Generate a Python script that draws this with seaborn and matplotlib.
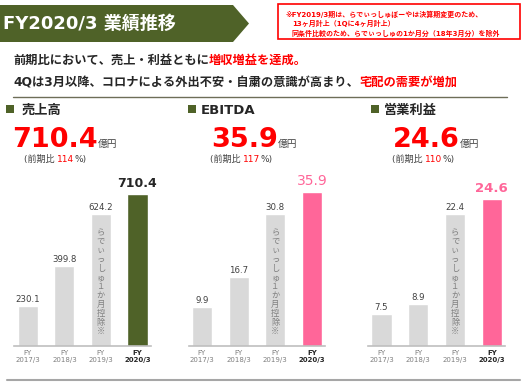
import matplotlib as mpl
import matplotlib.pyplot as plt
import matplotlib.patches as patches
import matplotlib.transforms as transforms
import pandas as pd
import seaborn as sns

# data
years = ['FY\n2017/3', 'FY\n2018/3', 'FY\n2019/3', 'FY\n2020/3']
sales = [230.1, 399.8, 624.2, 710.4]
ebitda = [9.9, 16.7, 30.8, 35.9]
opProfit = [7.5, 8.9, 22.4, 24.6]
yoy = [114, 117, 110]
titles = ['売上高', 'EBITDA', '営業利益']
headline = 'FY2020/3 業績推移'
noteLines = ['※FY2019/3期は、らでぃっしゅぼーやは決算期変更のため、',
             '13ヶ月計上（1Qに4ヶ月計上）',
             '同条件比較のため、らでぃっしゅの1か月分（18年3月分）を除外']
bodyLine1 = [('前期比において、売上・利益ともに', '#262626'), ('増収増益を達成。', '#ff0000')]
bodyLine2 = [('4Qは3月以降、コロナによる外出不安・自粛の意識が高まり、', '#262626'), ('宅配の需要が増加', '#ff0000')]
barNote = 'らでぃっしゅ１か月控除※'

W, H = 529, 383
olive = '#4f6228'
pink = '#ff6699'
grey = '#d9d9d9'
dark = '#262626'
fam = ['DejaVu Sans', 'Noto Sans CJK JP']

sns.set_style('white')
plt.rcParams['font.family'] = fam

fig = plt.figure(figsize=(W / 100, H / 100), dpi=100)
renderer = fig.canvas.get_renderer()


def fx(x):
    return x / W


def fy(y):
    return 1 - y / H


def putRow(parts, x, y, **kw):
    # draw text pieces one after another on a baseline (pixel coords)
    for s, c, size, weight in parts:
        t = fig.text(fx(x), fy(y), s, color=c, fontsize=size, fontweight=weight,
                     va='baseline', ha='left', family=fam, **kw)
        x = t.get_window_extent(renderer).x1
    return x


# header banner
banner = patches.Polygon([(fx(0), fy(5)), (fx(233), fy(5)), (fx(249), fy(23.5)),
                          (fx(233), fy(42)), (fx(0), fy(42))],
                         closed=True, transform=fig.transFigure, facecolor=olive, edgecolor='none')
fig.patches.append(banner)
fig.text(fx(3), fy(24), headline, color='white', fontsize=13, fontweight='bold',
         va='center', ha='left')

# red note box
fig.patches.append(patches.Rectangle((fx(278), fy(39)), fx(520) - fx(278), fy(4) - fy(39),
                                     transform=fig.transFigure, facecolor='white',
                                     edgecolor='#ff0000', linewidth=1.2))
for i, line in enumerate(noteLines):
    fig.text(fx(285 if i == 0 else 292), fy(14 + i * 9.5), line, color='#ff0000',
             fontsize=5, fontweight='bold', va='center', ha='left')

# body text
putRow([(s, c, 8.8, 'bold') for s, c in bodyLine1], 13, 64)
putRow([(s, c, 8.8, 'bold') for s, c in bodyLine2], 13, 86)
fig.add_artist(mpl.lines.Line2D([fx(13), fx(507)], [fy(97), fy(97)], color='#6e6e58', linewidth=1))
fig.add_artist(mpl.lines.Line2D([fx(7), fx(520)], [fy(380), fy(380)], color='#a6a6a6', linewidth=1.5))

panels = [
    dict(vals=sales, last=olive, box=(14, 151), xlim=(-0.38, 3.37), ylim=(57, 770),
         sq=6, title=22, num=12, pct=24, lab=dict(color=dark, fontsize=9, fontweight='bold')),
    dict(vals=ebitda, last=pink, box=(189, 325), xlim=(-0.35, 3.35), ylim=(1, 38.6),
         sq=188, title=201, num=211, pct=210, lab=dict(color=pink, fontsize=10, fontweight='normal')),
    dict(vals=opProfit, last=pink, box=(368, 505), xlim=(-0.37, 3.36), ylim=(2.7, 27.4),
         sq=371, title=384, num=393, pct=392, lab=dict(color=pink, fontsize=9.5, fontweight='bold')),
]

for k, p in enumerate(panels):
    vals = p['vals']
    # panel heading
    fig.patches.append(patches.Rectangle((fx(p['sq']), fy(112.5)), 7.5 / W, 7.5 / H,
                                         transform=fig.transFigure, facecolor=olive, edgecolor='none'))
    fig.text(fx(p['title']), fy(113.5), titles[k], color=dark, fontsize=9.5, fontweight='bold',
             va='baseline', ha='left')
    putRow([(f'{vals[-1]:.1f}', '#ff0000', 19.5, 'bold'), ('億円', '#404040', 7, 'normal')],
           p['num'], 147)
    putRow([('(前期比 ', '#404040', 6.5, 'normal'), (f'{yoy[k]}', '#ff0000', 6.5, 'normal'),
            ('%)', '#404040', 6.5, 'normal')], p['pct'], 162)

    # bars
    x0, x1 = p['box']
    ax = fig.add_axes([fx(x0), fy(346), (x1 - x0) / W, 166 / H])
    df = pd.DataFrame({'year': years, 'value': vals})
    sns.barplot(data=df, x='year', y='value', hue='year', legend=False, ax=ax,
                palette=[grey, grey, grey, p['last']], saturation=1, width=0.55)
    ax.set_xlim(*p['xlim'])
    ax.set_ylim(*p['ylim'])
    ax.set_yticks([])
    ax.set_xlabel('')
    ax.set_ylabel('')
    ax.patch.set_alpha(0)
    for s in ['top', 'left', 'right']:
        ax.spines[s].set_visible(False)
    ax.spines['bottom'].set_color('#bfbfbf')
    ax.spines['bottom'].set_linewidth(1.2)
    ax.tick_params(axis='x', length=0, pad=3)
    ax.set_xticks(range(len(years)))
    ax.set_xticklabels(years, fontsize=5, color='#7f7f7f', linespacing=1.1)
    lastTick = ax.get_xticklabels()[-1]
    lastTick.set_color(dark)
    lastTick.set_fontweight('bold')

    for i, v in enumerate(vals):
        if i == len(vals) - 1:
            ax.annotate(f'{v:.1f}', (i, v), xytext=(0, 3), textcoords='offset points',
                        ha='center', va='bottom', **p['lab'])
        else:
            ax.annotate(f'{v:.1f}', (i, v), xytext=(0, 1.5), textcoords='offset points',
                        ha='center', va='bottom', color='#404040', fontsize=6.2)

    trans = transforms.blended_transform_factory(ax.transData, ax.transAxes)
    ax.text(2, 0.385, '\n'.join(barNote), transform=trans, ha='center', va='center',
            fontsize=6, color='#808080', linespacing=1.0, family=['Noto Sans CJK JP', 'DejaVu Sans'])

plt.savefig('out.png', dpi=100)
